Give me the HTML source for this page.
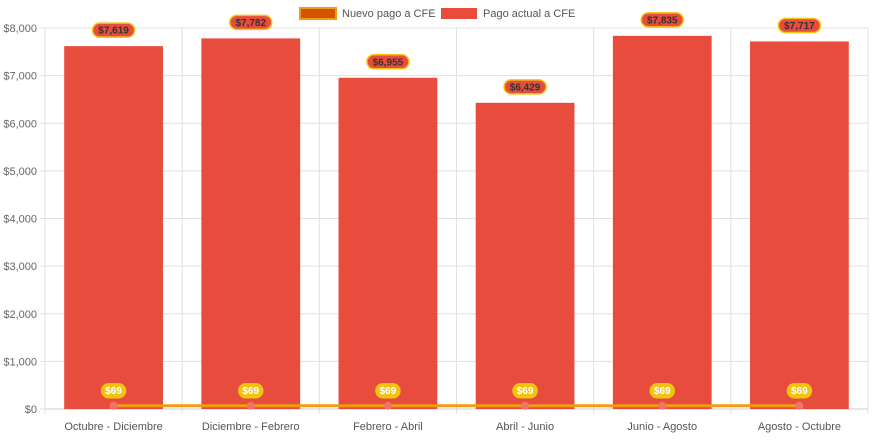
<!DOCTYPE html>
<html><head><meta charset="utf-8"><style>
body{margin:0;background:#fff;font-family:"Liberation Sans",sans-serif}
svg text{font-family:"Liberation Sans",sans-serif}
</style></head><body>
<svg id="c" width="873" height="436"></svg>
<script>
const categories=["Octubre - Diciembre","Diciembre - Febrero","Febrero - Abril","Abril - Junio","Junio - Agosto","Agosto - Octubre"];
const actualValues=[7619,7782,6955,6429,7835,7717];
const newValues=[69,69,69,69,69,69];
const yTicks=[0,1000,2000,3000,4000,5000,6000,7000,8000];
const NS="http://www.w3.org/2000/svg";
const svg=document.getElementById('c');
const L=45,R=868,T=28,B=409,yMax=8000;
const cw=(R-L)/categories.length;
const y=v=>B-(v/yMax)*(B-T);
const xc=i=>L+cw*(i+0.5);
function mk(t,a,p){const e=document.createElementNS(NS,t);for(const k in a)e.setAttribute(k,a[k]);(p||svg).appendChild(e);return e;}
const fmt=v=>'$'+v.toLocaleString('en-US');
yTicks.forEach(t=>{
 const g=mk('line',{x1:L-5,x2:R,y1:y(t),y2:y(t),stroke:'#e0e0e0','stroke-width':1});
 
 
 const tx=mk('text',{x:L-8,y:y(t)+4,'text-anchor':'end','font-size':11,fill:'#666'});tx.textContent=fmt(t);
 
 
});
for(let i=0;i<=categories.length;i++){
 const g=mk('line',{x1:L+cw*i,x2:L+cw*i,y1:T,y2:B+5,stroke:'#e0e0e0','stroke-width':1});
 
 
}
mk('line',{x1:L,x2:R,y1:B,y2:B,stroke:'#ccc'});
categories.forEach((c,i)=>{
 const t=mk('text',{x:xc(i),y:430,'text-anchor':'middle','font-size':11,fill:'#555'});t.textContent=c;
 
 
 const bw=cw*0.72;
 const b=mk('rect',{x:xc(i)-bw/2,y:y(actualValues[i]),width:bw,height:B-y(actualValues[i]),fill:'#e74c3c'});
 
 
});
const pts=newValues.map((v,i)=>xc(i)+','+y(v)).join(' ');
const ln=mk('polyline',{points:pts,fill:'none',stroke:'#f39c12','stroke-width':3});


newValues.forEach((v,i)=>{
 const p=mk('circle',{cx:xc(i),cy:y(v),r:4,fill:'#f1736a'});
 
 
});
function badge(cx,cy,txt,fill,stroke,col,name){
 const w=txt.length*6+6;
 const r=mk('rect',{x:cx-w/2,y:cy-7,width:w,height:14,rx:7,fill:fill,stroke:stroke,'stroke-width':1.5});
 
 
 const t=mk('text',{x:cx,y:cy+3.5,'text-anchor':'middle','font-size':10,'font-weight':'bold',fill:col});t.textContent=txt;
}
actualValues.forEach((v,i)=>badge(xc(i),y(v)-16,fmt(v),'#e74c3c','#f1c40f','#333','value-label-actual'));
newValues.forEach((v,i)=>badge(xc(i),y(v)-15,fmt(v),'#f1c40f','#f1c40f','#fff','value-label-nuevo'));
// legend
const l1=mk('rect',{x:300,y:8,width:36,height:11,fill:'#d35400',stroke:'#f39c12','stroke-width':2});


const t1=mk('text',{x:342,y:17,'font-size':11,fill:'#555'});t1.textContent='Nuevo pago a CFE';


const l2=mk('rect',{x:441,y:8,width:36,height:11,fill:'#e74c3c'});


const t2=mk('text',{x:483,y:17,'font-size':11,fill:'#555'});t2.textContent='Pago actual a CFE';


</script>
</body></html>
